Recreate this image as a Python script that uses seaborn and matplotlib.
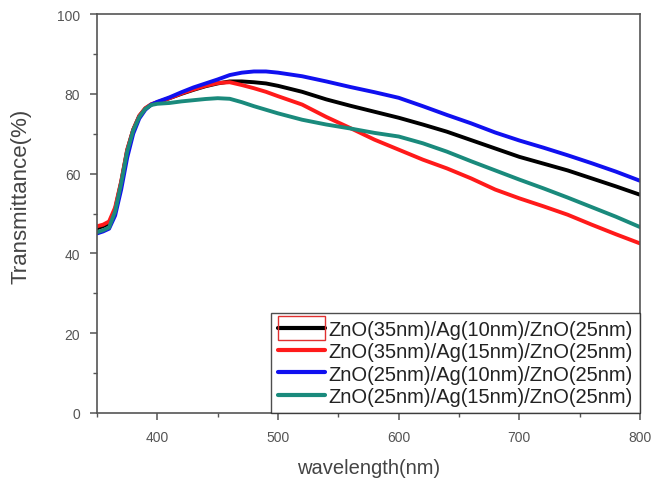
import numpy as np
import pandas as pd
import matplotlib
matplotlib.use("Agg")
import matplotlib.pyplot as plt
import seaborn as sns
from matplotlib.ticker import MultipleLocator
from matplotlib.patches import Rectangle

wavelength = [350, 355, 360, 365, 370, 375, 380, 385, 390, 395, 400, 410, 420, 430, 440, 450,
              460, 470, 480, 490, 500, 520, 540, 560, 580, 600, 620, 640, 660, 680, 700, 720,
              740, 760, 780, 800]

black_35_10 = [46.3, 46.8, 47.5, 51.0, 57.8, 65.8, 71.0, 74.4, 76.3, 77.3, 77.8, 78.9, 80.0, 81.0, 81.9, 82.6,
               83.1, 83.1, 82.9, 82.6, 82.0, 80.5, 78.6, 77.0, 75.5, 74.0, 72.3, 70.5, 68.4, 66.3, 64.2, 62.5,
               60.8, 58.8, 56.8, 54.7]
red_35_15 = [46.8, 47.2, 48.0, 51.5, 58.0, 66.0, 71.0, 74.5, 76.4, 77.4, 77.9, 78.9, 80.1, 81.1, 82.0, 82.7,
             82.9, 82.2, 81.4, 80.5, 79.4, 77.3, 74.2, 71.4, 68.5, 66.0, 63.5, 61.3, 58.8, 56.0, 53.8, 51.8,
             49.7, 47.2, 44.8, 42.5]
blue_25_10 = [45.0, 45.5, 46.2, 49.5, 56.0, 64.0, 70.0, 73.8, 76.0, 77.3, 78.0, 79.1, 80.4, 81.6, 82.6, 83.6,
              84.7, 85.3, 85.6, 85.6, 85.3, 84.4, 83.1, 81.7, 80.4, 79.0, 76.9, 74.7, 72.6, 70.3, 68.3, 66.5,
              64.6, 62.6, 60.5, 58.2]
teal_25_15 = [45.3, 45.8, 46.5, 50.5, 57.5, 65.5, 70.8, 74.2, 76.2, 77.2, 77.5, 77.7, 78.1, 78.4, 78.7, 78.9,
              78.75, 77.9, 76.9, 76.0, 75.1, 73.5, 72.3, 71.3, 70.2, 69.3, 67.6, 65.5, 63.1, 60.8, 58.5, 56.3,
              54.0, 51.6, 49.2, 46.6]

labels = ["ZnO(35nm)/Ag(10nm)/ZnO(25nm)",
          "ZnO(35nm)/Ag(15nm)/ZnO(25nm)",
          "ZnO(25nm)/Ag(10nm)/ZnO(25nm)",
          "ZnO(25nm)/Ag(15nm)/ZnO(25nm)"]
colors = ["#000000", "#ff1a1a", "#1010f0", "#1a8a7c"]

frames = []
for lab, vals in zip(labels, [black_35_10, red_35_15, blue_25_10, teal_25_15]):
    frames.append(pd.DataFrame({"wavelength": wavelength, "T": vals, "sample": lab}))
df = pd.concat(frames, ignore_index=True)

sns.set_style("ticks")
plt.rcParams["font.family"] = ["Liberation Sans", "DejaVu Sans"]

fig = plt.figure(figsize=(6.52, 4.81), dpi=100)
ax = fig.add_axes([0.1488, 0.1393, 0.8328, 0.8295])

sns.lineplot(data=df, x="wavelength", y="T", hue="sample", hue_order=labels,
             palette=colors, linewidth=2.8, ax=ax, sort=True, estimator=None)

ax.set_xlim(350, 800)
ax.set_ylim(0, 100)
ax.xaxis.set_major_locator(MultipleLocator(100))
ax.xaxis.set_minor_locator(MultipleLocator(50))
ax.yaxis.set_major_locator(MultipleLocator(20))
ax.yaxis.set_minor_locator(MultipleLocator(10))
ax.set_xticks([400, 500, 600, 700, 800])

spine_col = "#555555"
for s in ax.spines.values():
    s.set_visible(True)
    s.set_color(spine_col)
    s.set_linewidth(1.2)
ax.tick_params(axis="both", which="major", direction="out", length=5, width=1.1,
               color=spine_col, labelsize=10, labelcolor="#555555", pad=7)
ax.tick_params(axis="both", which="minor", direction="out", length=3, width=1.0, color=spine_col)
ax.tick_params(top=False, right=False, which="both")

ax.set_xlabel("wavelength(nm)", fontsize=14.5, color="#444444", labelpad=10)
ax.set_ylabel("Transmittance(%)", fontsize=16, color="#444444")
ax.yaxis.set_label_coords(-0.12, 0.545)

leg = ax.legend(loc="lower right", fontsize=14.5, frameon=True, fancybox=False,
                borderaxespad=0.0, handlelength=2.3, handletextpad=0.2,
                labelspacing=0.17, borderpad=0.35)
leg.get_frame().set_edgecolor("#222222")
leg.get_frame().set_linewidth(1.0)
for line in leg.get_lines():
    line.set_linewidth(3.0)
for t in leg.get_texts():
    t.set_color("#222222")

# red selection rectangle around the first legend handle (as in the source image)
fig.canvas.draw()
renderer = fig.canvas.get_renderer()
h0 = leg.get_lines()[0]
bb = h0.get_window_extent(renderer)
yc = (bb.y0 + bb.y1) / 2.0
rect = Rectangle((bb.x0, yc - 12), bb.width, 24, transform=None,
                 fill=False, edgecolor="#e03030", linewidth=1.0, zorder=10)
fig.patches.append(rect)

fig.savefig("out.png", dpi=100)
